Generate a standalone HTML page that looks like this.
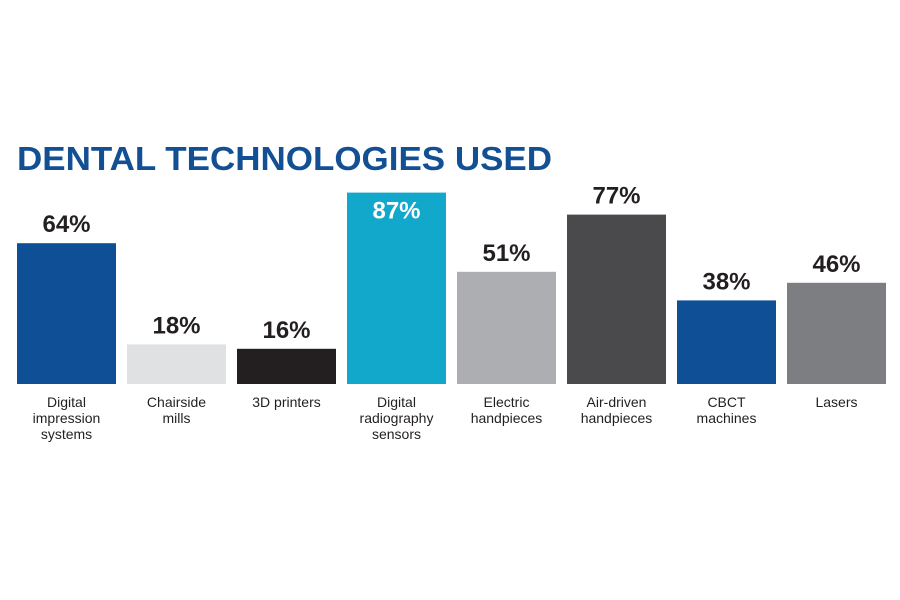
<!DOCTYPE html>
<html><head><meta charset="utf-8"><style>
html,body{margin:0;padding:0;background:#fff;}
svg{display:block;font-family:"Liberation Sans",sans-serif;}
</style></head><body>
<svg id="chart" width="900" height="600" viewBox="0 0 900 600">
<text x="17" y="170" font-size="33" font-weight="bold" fill="#134f93" textLength="535" lengthAdjust="spacingAndGlyphs">DENTAL TECHNOLOGIES USED</text>
<g id="bars"></g>
</svg>
<script>
const categories = [["Digital","impression","systems"],["Chairside","mills"],["3D printers"],["Digital","radiography","sensors"],["Electric","handpieces"],["Air-driven","handpieces"],["CBCT","machines"],["Lasers"]];
const values = [64,18,16,87,51,77,38,46];
const colors = ["#0f4f96","#e0e1e3","#231f20","#12a8cc","#adaeb1","#4a4a4c","#0f4f96","#7d7e82"];
const baseY = 384, pxPer = 2.2, x0 = 17, step = 110, bw = 99;
const ns = "http://www.w3.org/2000/svg";
const g = document.getElementById('bars');
function xPos(i){return x0 + i*step;}
function yPos(v){return baseY - v*pxPer;}
values.forEach((v,i)=>{
  const r = document.createElementNS(ns,'rect');
  
  
  r.setAttribute('x',xPos(i)); r.setAttribute('y',yPos(v));
  r.setAttribute('width',bw); r.setAttribute('height',baseY-yPos(v));
  r.setAttribute('fill',colors[i]);
  g.appendChild(r);
  const t = document.createElementNS(ns,'text');
  
  
  const inside = yPos(v) < 200;
  t.setAttribute('x',xPos(i)+bw/2);
  t.setAttribute('y',inside ? yPos(v)+26 : yPos(v)-11);
  t.setAttribute('text-anchor','middle');
  t.setAttribute('font-size','24'); t.setAttribute('font-weight','bold');
  t.setAttribute('fill',inside ? '#ffffff' : '#231f20');
  t.textContent = v+'%';
  g.appendChild(t);
  categories[i].forEach((line,j)=>{
    const c = document.createElementNS(ns,'text');
    
    
    c.setAttribute('x',xPos(i)+bw/2);
    c.setAttribute('y',407+j*16);
    c.setAttribute('text-anchor','middle');
    c.setAttribute('font-size','14'); c.setAttribute('fill','#231f20');
    c.textContent = line;
    g.appendChild(c);
  });
});
</script>
</body></html>
